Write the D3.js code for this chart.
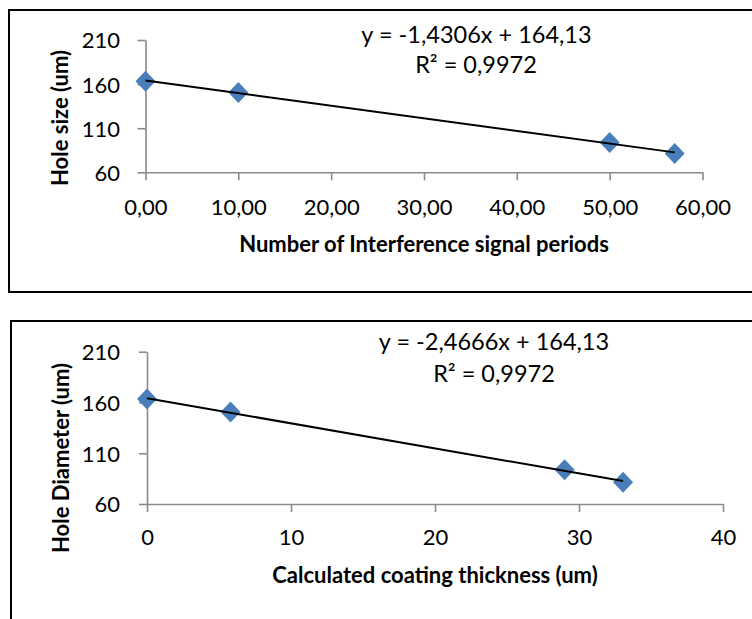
<!DOCTYPE html>
<html><head><meta charset="utf-8">
<script src="https://cdn.jsdelivr.net/npm/d3@7"></script>
<style>
html,body{margin:0;padding:0;background:#fff;}
text{font-family:Lato,"Open Sans",sans-serif;fill:#000;}
</style></head>
<body><svg id="c" width="752" height="619"></svg>
<script>
// ---- data ----
const holeSize = [163.3, 150.6, 93.8, 81.3];
const periods = [0, 10, 50, 57];
const thickness = [0, 5.8, 29, 33.06];
const topXTicks = [0, 10, 20, 30, 40, 50, 60];
const botXTicks = [0, 10, 20, 30, 40];
const yTicks = [60, 110, 160, 210];
const topFit = {slope: -1.4306, intercept: 164.13, r2: "0,9972"};
const botFit = {slope: -2.4666, intercept: 164.13, r2: "0,9972"};
const topTitles = {x: "Number of Interference signal periods", y: "Hole size (um)", eq: "y = -1,4306x + 164,13"};
const botTitles = {x: "Calculated coating thickness (um)", y: "Hole Diameter (um)", eq: "y = -2,4666x + 164,13"};

const svg = d3.select("#c");
const comma = s => s.replace(".", ",");

function chart(cfg) {
  const g = svg.append("g");
  // frame
  g.append("rect").attr("x", cfg.frame[0]).attr("y", cfg.frame[1])
    .attr("width", cfg.frame[2]).attr("height", cfg.frame[3])
    .attr("fill", "none").attr("stroke", "#000").attr("stroke-width", 2);
  const x = d3.scaleLinear().domain(cfg.xDomain).range(cfg.xRange);
  const y = d3.scaleLinear().domain([60, 210]).range(cfg.yRange);
  const axisColor = "#8a8a8a";
  // x axis
  const xa = g.append("g").attr("transform", `translate(0,${cfg.yRange[0]})`)
    .call(d3.axisBottom(x).tickValues(cfg.xTicks).tickSize(8).tickSizeOuter(0).tickFormat(cfg.xFmt));
  xa.select(".domain").attr("stroke", axisColor).attr("stroke-width", 1.6);
  xa.selectAll(".tick line").attr("stroke", axisColor).attr("stroke-width", 1.6);
  xa.selectAll(".tick text").attr("y", cfg.xLabBase - cfg.yRange[0]).attr("dy", null)
    .attr("font-size", cfg.fs).attr("font-family", "Lato").attr("fill", "#000");
  // y axis
  const ya = g.append("g").attr("transform", `translate(${cfg.xRange[0]},0)`)
    .call(d3.axisLeft(y).tickValues(yTicks).tickSize(8).tickSizeOuter(0));
  ya.select(".domain").attr("stroke", axisColor).attr("stroke-width", 1.6);
  ya.selectAll(".tick line").attr("stroke", axisColor).attr("stroke-width", 1.6);
  ya.selectAll(".tick text").attr("x", cfg.yLabEnd - cfg.xRange[0]).attr("dy", "0.36em")
    .attr("font-size", cfg.fs).attr("font-family", "Lato").attr("fill", "#000");
  // points
  g.selectAll("path.pt").data(cfg.xs.map((v, i) => [v, holeSize[i]])).enter()
    .append("path").attr("class", "pt")
    .attr("d", d => {
      const cx = x(d[0]), cy = y(d[1]), w = 10, h = 10.5;
      return `M${cx},${cy - h}L${cx + w},${cy}L${cx},${cy + h}L${cx - w},${cy}Z`;
    })
    .attr("fill", "#4a7ebb");
  // trendline
  const x0 = d3.min(cfg.xs), x1 = d3.max(cfg.xs);
  g.append("line")
    .attr("x1", x(x0)).attr("y1", y(cfg.fit.slope * x0 + cfg.fit.intercept))
    .attr("x2", x(x1)).attr("y2", y(cfg.fit.slope * x1 + cfg.fit.intercept))
    .attr("stroke", "#000").attr("stroke-width", 2);
  // titles
  g.append("text").attr("x", cfg.xTitle[0]).attr("y", cfg.xTitle[1]).attr("text-anchor", "middle")
    .attr("font-weight", "bold").attr("font-size", cfg.tfs).text(cfg.titles.x);
  g.append("text").attr("transform", `translate(${cfg.yTitle[0]},${cfg.yTitle[1]}) rotate(-90)`)
    .attr("text-anchor", "middle").attr("dy", "0.36em")
    .attr("font-weight", "bold").attr("font-size", cfg.tfs).text(cfg.titles.y);
  g.append("text").attr("x", cfg.eq[0]).attr("y", cfg.eq[1]).attr("text-anchor", "middle")
    .attr("font-size", cfg.efs).text(cfg.titles.eq);
  g.append("text").attr("x", cfg.r2[0]).attr("y", cfg.r2[1]).attr("text-anchor", "middle")
    .attr("font-size", cfg.efs).text("R² = " + cfg.fit.r2);
}

chart({
  frame: [9, 10, 800, 282],
  xDomain: [0, 60], xRange: [145.5, 702.5], yRange: [172.3, 40],
  xTicks: topXTicks, xFmt: d => comma(d3.format(".2f")(d)),
  xs: periods, fit: topFit, titles: topTitles,
  fs: 22, tfs: 22, efs: 23.5,
  xLabBase: 215, yLabEnd: 120,
  xTitle: [424, 252], yTitle: [60, 118], eq: [476.5, 43], r2: [476, 73]
});
chart({
  frame: [11, 321, 800, 320],
  xDomain: [0, 40], xRange: [147, 723], yRange: [504, 351.7],
  xTicks: botXTicks, xFmt: d3.format("d"),
  xs: thickness, fit: botFit, titles: botTitles,
  fs: 22, tfs: 22, efs: 23.5,
  xLabBase: 545, yLabEnd: 120,
  xTitle: [435, 583], yTitle: [61, 458], eq: [494, 350], r2: [494, 382]
});
</script></body></html>
